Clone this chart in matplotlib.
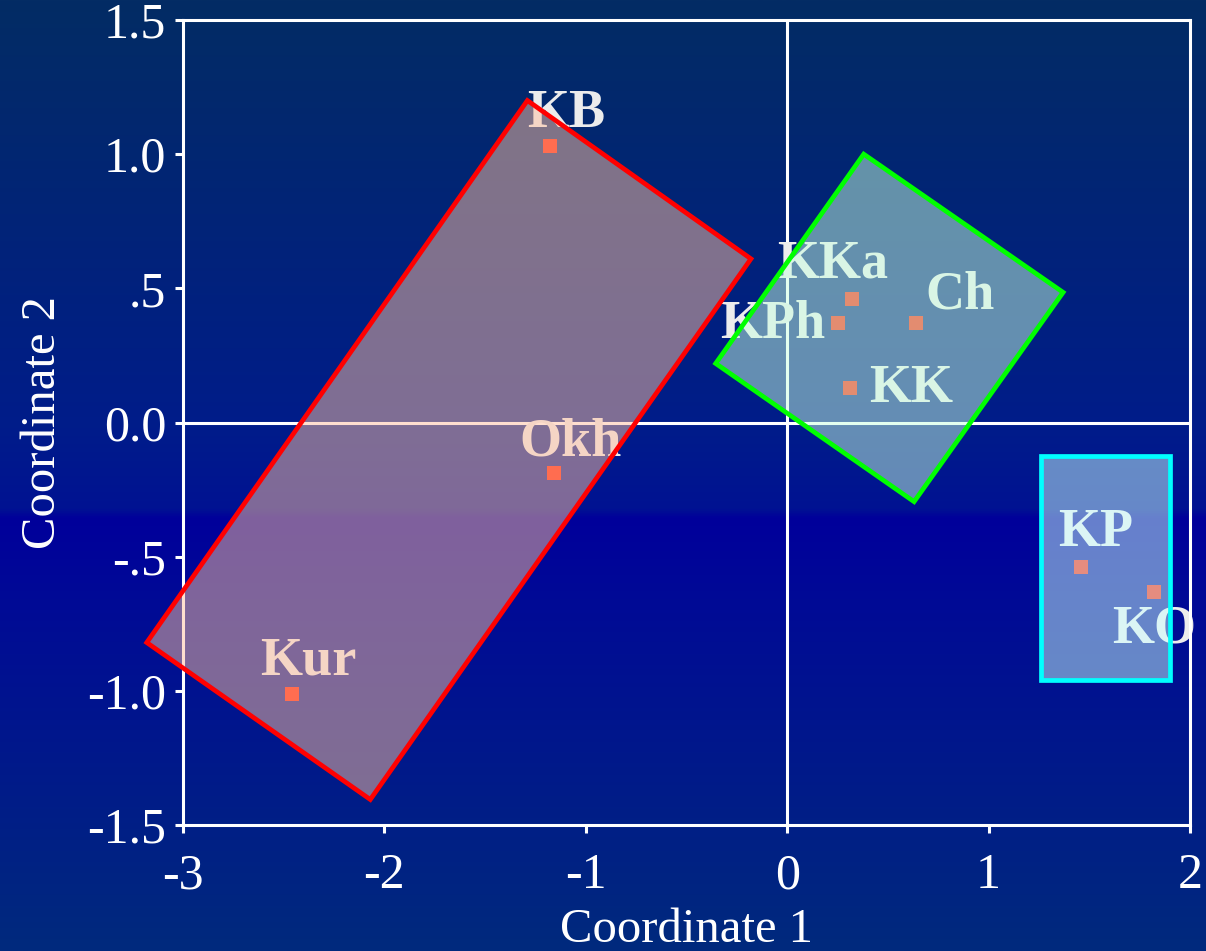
"""Coordinate 1 / Coordinate 2 scatter with group boxes on a blue gradient."""
import matplotlib
matplotlib.use("Agg")
import matplotlib.pyplot as plt
import numpy as np
from matplotlib.patches import Polygon

# points
names = ["KB", "Okh", "Kur", "KKa", "KPh", "Ch", "KK", "KP", "KO"]
coord1 = [-1.18, -1.16, -2.46, 0.32, 0.25, 0.64, 0.31, 1.46, 1.82]
coord2 = [1.03, -0.19, -1.01, 0.46, 0.37, 0.37, 0.13, -0.54, -0.63]

# group outlines (data coords)
red_group = [(-1.29, 1.20), (-0.18, 0.61), (-2.07, -1.405), (-3.18, -0.82)]
green_group = [(0.38, 1.00), (1.37, 0.485), (0.63, -0.295), (-0.355, 0.22)]
cyan_group = [(1.26, -0.125), (1.90, -0.125), (1.90, -0.96), (1.26, -0.96)]

xticks = [-3, -2, -1, 0, 1, 2]
xticklabels = ["-3", "-2", "-1", "0", "1", "2"]
yticks = [1.5, 1.0, 0.5, 0.0, -0.5, -1.0, -1.5]
yticklabels = ["1.5", "1.0", ".5", "0.0", "-.5", "-1.0", "-1.5"]

# label offsets in points (dx, dy)
label_off = {"KB": (12, 23), "Okh": (12, 22), "Kur": (12, 23), "KKa": (-14, 25),
             "KPh": (-47, -1), "Ch": (32, 20), "KK": (44, -1), "KP": (10, 25),
             "KO": (0, -27)}

SERIF = ["Liberation Serif", "DejaVu Serif"]
W, H = 1206, 951
fig = plt.figure(figsize=(W / 100, H / 100), dpi=100)

# background gradient
stops = [(0.0, (3, 44, 100)), (0.45, (0, 28, 138)), (0.535, (0, 18, 146)),
         (0.545, (0, 0, 155)), (0.63, (0, 10, 150)), (1.0, (0, 42, 125))]
ys = np.linspace(0, 1, 400)
grad = np.zeros((400, 1, 3))
for c in range(3):
    grad[:, 0, c] = np.interp(ys, [s[0] for s in stops], [s[1][c] for s in stops]) / 255
bg = fig.add_axes([0, 0, 1, 1], zorder=-10)
bg.imshow(grad, aspect="auto", extent=[0, 1, 0, 1])
bg.axis("off")

ax = fig.add_axes([183 / W, 1 - 825 / H, (1190 - 183) / W, (825 - 20) / H])
ax.patch.set_alpha(0)
ax.set_xlim(-3, 2)
ax.set_ylim(-1.5, 1.5)

for s in ax.spines.values():
    s.set_color("white")
    s.set_linewidth(2.2)
ax.axhline(0, color="white", lw=2.2, zorder=1)
ax.axvline(0, color="white", lw=2.2, zorder=1)

ax.set_xticks(xticks)
ax.set_xticklabels(xticklabels)
ax.set_yticks(yticks)
ax.set_yticklabels(yticklabels)
ax.tick_params(colors="white", length=6, width=2.2, labelsize=36)
ax.tick_params(axis="x", pad=14)
ax.tick_params(axis="y", pad=6)
for lab in ax.get_xticklabels() + ax.get_yticklabels():
    lab.set_family(SERIF)

ax.set_xlabel("Coordinate 1", color="white", fontsize=35, family=SERIF, labelpad=6)
ax.set_ylabel("Coordinate 2", color="white", fontsize=35, family=SERIF, labelpad=16)

ax.plot(coord1, coord2, "s", color="#FF1A00", ms=10, mew=0, zorder=2)
for n, x, y in zip(names, coord1, coord2):
    dx, dy = label_off[n]
    ax.annotate(n, (x, y), xytext=(dx, dy), textcoords="offset points",
                ha="center", va="center", color="#ECECEC", fontsize=39,
                fontweight="bold", family=SERIF, zorder=2, annotation_clip=False)

for verts, fc, ec in [(red_group, "#FFC0A0", "#FF0000"),
                      (green_group, "#C8FFE0", "#00FF00"),
                      (cyan_group, "#CCFFFF", "#00FFFF")]:
    ax.add_patch(Polygon(verts, closed=True, facecolor=fc, alpha=0.5, lw=0,
                         zorder=3, clip_on=False))
    ax.add_patch(Polygon(verts, closed=True, fill=False, edgecolor=ec, lw=3.4,
                         zorder=4, clip_on=False, joinstyle="miter"))

fig.savefig("out.png", dpi=100)
